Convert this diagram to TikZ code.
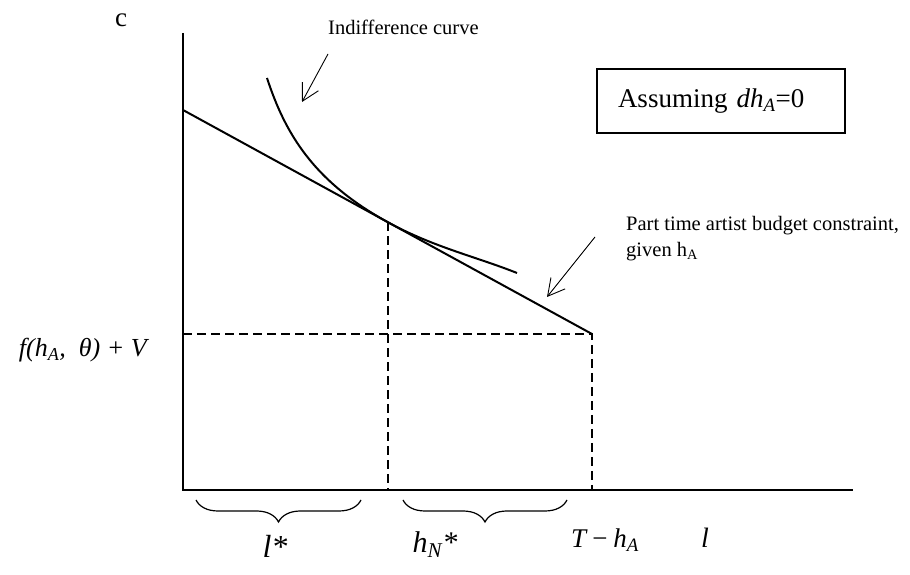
\documentclass[tikz,border=0pt]{standalone}
\usepackage{fontspec}
\setmainfont{Liberation Serif}
\usetikzlibrary{positioning,calc,arrows.meta,decorations.pathreplacing}

\newcommand{\labsize}{\fontsize{20.5}{26}\selectfont}
\newcommand{\bigsize}{\fontsize{27}{32}\selectfont}

\begin{document}
\begin{tikzpicture}[x=1pt,y=1pt,
    axis/.style={line width=2pt},
    guide/.style={line width=1.7pt,dash pattern=on 9pt off 5pt},
    pointer/.style={-{Straight Barb[angle=57:19pt]},line width=0.9pt},
    note/.style={font=\labsize,inner sep=0pt},
    brc/.style={decorate,decoration={brace,mirror,amplitude=22pt},line width=1.2pt}]

\useasboundingbox (-183,-85) rectangle (727,490);

% Axes
\coordinate (O) at (0,0);
\coordinate (ytop) at (0,457);
\coordinate (xend) at (670,0);
\draw[axis] (ytop) -- (O) -- (xend);

% Budget constraint
\coordinate (B) at (0,380);
\coordinate (K) at (409,156);
\coordinate (E) at (205,267.7);
\draw[axis] (B) -- (K);

% Indifference curve
\coordinate (U1) at (84,412);
\coordinate (U2) at (334,217);
\draw[axis] (U1) .. controls (102,357) and (130,308.8) .. (E)
    .. controls (250,243) and (294,233) .. (U2);

% Dashed guides
\draw[guide] (E) -- (E |- O);
\draw[guide] (B |- K) -- (K) -- (K |- O);

% Labels
\node[font=\bigsize] (cax) at (-62,470) {c};
\node[note,anchor=base west] (ic) at (145,455) {Indifference curve};
\coordinate (icTail) at (145,436);
\coordinate (icTip) at (119,388);
\draw[pointer] (icTail) -- (icTip);

\node[note,anchor=north west,align=left] (bc) at (443,274)
    {Part time artist budget constraint,\\given h\textsubscript{A}};
\coordinate (bcTail) at (412,253);
\coordinate (bcTip) at (364,193);
\draw[pointer] (bcTail) -- (bcTip);

\node[draw,line width=1.5pt,font=\bigsize,text width=206pt,align=left,
    inner xsep=21pt,minimum height=64pt] (assume) at (538,389)
    {Assuming \textit{dh}\textsubscript{\textit{A}}=0};

\node[font=\fontsize{26}{30}\selectfont\itshape,anchor=east,inner sep=0pt] (fval)
    at (-36,140) {f(h\textsubscript{A},\ \ θ) + V};

% Braces and x labels
\coordinate (b1l) at (13,-10);
\coordinate (b1r) at (178,-10);
\coordinate (b2l) at (220,-10);
\coordinate (b2r) at (384,-10);
\draw[brc] (b1l) -- (b1r);
\draw[brc] (b2l) -- (b2r);

\node[font=\fontsize{32}{36}\selectfont\itshape] (lstar) at (92,-56) {l*};
\node[font=\fontsize{30}{34}\selectfont\itshape] (hstar) at (252,-55) {h\textsubscript{N}*};
\node[font=\bigsize\itshape] (tha) at (422,-50) {T\,−\,h\textsubscript{A}};
\node[font=\fontsize{28}{32}\selectfont\itshape] (lax) at (522,-48) {l};

\end{tikzpicture}
\end{document}
